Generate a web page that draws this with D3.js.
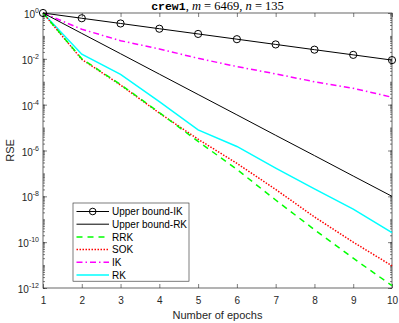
<!DOCTYPE html>
<html>
<head>
<meta charset="utf-8">
<script src="https://cdn.jsdelivr.net/npm/d3@7"></script>
<style>
  body { margin: 0; background: #fff; }
  svg { display: block; font-family: "Liberation Sans", Arial, sans-serif; }
</style>
</head>
<body>
<div id="chart"></div>
<script>
// epochs on the x axis
const epochs = [1, 2, 3, 4, 5, 6, 7, 8, 9, 10];

// RSE per epoch
const upperIK = [1, 0.59, 0.349, 0.206, 0.122, 0.072, 0.0425, 0.0251, 0.0149, 0.0088];
const upperRK = [1, 0.129, 0.0167, 2.15e-3, 2.78e-4, 3.6e-5, 4.6e-6, 6e-7, 7.7e-8, 1e-8];
const rrk = [1, 1.0e-2, 7.6e-4, 4.5e-5, 2.5e-6, 1.5e-7, 6.9e-9, 3.5e-10, 2.0e-11, 1.26e-12];
const sok = [1, 9.5e-3, 7.2e-4, 4.3e-5, 3.1e-6, 2.75e-7, 2.0e-8, 1.26e-9, 1.0e-10, 9.3e-12];
const ik = [1, 0.195, 0.062, 0.027, 0.0105, 0.0046, 0.0022, 0.001, 0.00052, 0.00021];
const rk = [1, 1.6e-2, 2.1e-3, 1.35e-4, 7.9e-6, 1.5e-6, 1.7e-7, 2.1e-8, 2.75e-9, 2.6e-10];

const yTickExps = [0, -2, -4, -6, -8, -10, -12];
const legendNames = ["Upper bound-IK", "Upper bound-RK", "RRK", "SOK", "IK", "RK"];

const width = 399, height = 323;
const margin = {top: 13, right: 7, bottom: 35, left: 43};

const svg = d3.select("#chart").append("svg")
    .attr("width", width)
    .attr("height", height);

const x = d3.scaleLinear().domain([1, 10]).range([margin.left, width - margin.right]);
const y = d3.scaleLog().domain([1e-12, 1]).range([height - margin.bottom, margin.top]);

const x0 = x.range()[0], x1 = x.range()[1];
const y0 = y.range()[0], y1 = y.range()[1];

// minor log ticks (every k*10^n)
let minor = [];
for (let e = -12; e < 0; e++) {
    for (let k = 1; k < 10; k++) minor.push(k * Math.pow(10, e));
}

const tickStyle = g => {
    g.select(".domain").remove();
    g.selectAll(".tick line").attr("stroke", "#262626").attr("stroke-width", 0.6);
};

// x axis bottom and top, ticks inward
svg.append("g")
    .attr("transform", `translate(0,${y0})`)
    .call(d3.axisBottom(x).tickValues(epochs).tickSize(-4).tickPadding(9).tickFormat(d3.format("d")))
    .call(tickStyle)
    .call(g => g.selectAll("text").attr("font-size", 10).attr("fill", "#262626")
        .attr("font-family", "Liberation Sans, Arial, sans-serif"));

svg.append("g")
    .attr("transform", `translate(0,${y1})`)
    .call(d3.axisTop(x).tickValues(epochs).tickSize(-4).tickFormat(""))
    .call(tickStyle);

// y axis left and right, major + minor ticks
[[d3.axisLeft, x0], [d3.axisRight, x1]].forEach(([ax, px]) => {
    svg.append("g")
        .attr("transform", `translate(${px},0)`)
        .call(ax(y).tickValues(minor).tickSize(-2).tickFormat(""))
        .call(tickStyle);
    svg.append("g")
        .attr("transform", `translate(${px},0)`)
        .call(ax(y).tickValues(yTickExps.map(e => Math.pow(10, e))).tickSize(-4).tickFormat(""))
        .call(tickStyle);
});

// y tick labels 10^n
const ylab = svg.append("g").attr("font-size", 10).attr("fill", "#262626");
yTickExps.forEach(e => {
    const t = ylab.append("text")
        .attr("x", x0 - 4)
        .attr("y", y(Math.pow(10, e)) + 5)
        .attr("text-anchor", "end");
    t.append("tspan").text("10");
    t.append("tspan").attr("font-size", 7).attr("dy", -5).text(e);
});

// box
svg.append("rect")
    .attr("x", x0).attr("y", y1)
    .attr("width", x1 - x0).attr("height", y0 - y1)
    .attr("fill", "none").attr("stroke", "#262626").attr("stroke-width", 0.7);

// series
const series = [
    {name: legendNames[0], values: upperIK, color: "#000", dash: null, w: 1, marker: true},
    {name: legendNames[1], values: upperRK, color: "#000", dash: null, w: 1, marker: false},
    {name: legendNames[2], values: rrk, color: "#00ff00", dash: "6,5", w: 1.5, marker: false},
    {name: legendNames[3], values: sok, color: "#ff0000", dash: "1.5,1.5", w: 1.5, marker: false},
    {name: legendNames[4], values: ik, color: "#ff00ff", dash: "6,3,1.5,3", w: 1.5, marker: false},
    {name: legendNames[5], values: rk, color: "#00ffff", dash: null, w: 1.5, marker: false}
];

const line = d3.line()
    .x((d, i) => x(epochs[i]))
    .y(d => y(d));

const plot = svg.append("g");
// draw in reverse so upper bounds sit on top like the reference
series.slice().reverse().forEach(s => {
    plot.append("path")
        .datum(s.values)
        .attr("d", line)
        .attr("fill", "none")
        .attr("stroke", s.color)
        .attr("stroke-width", s.w)
        .attr("stroke-dasharray", s.dash);
    if (s.marker) {
        plot.selectAll(null)
            .data(s.values)
            .enter().append("circle")
            .attr("cx", (d, i) => x(epochs[i]))
            .attr("cy", d => y(d))
            .attr("r", 3.6)
            .attr("fill", "none")
            .attr("stroke", s.color)
            .attr("stroke-width", 1);
    }
});

// legend
const lg = svg.append("g");
const lgX = 73, lgY = 203, lgW = 116, rowH = 12.7;
lg.append("rect")
    .attr("x", lgX).attr("y", lgY)
    .attr("width", lgW).attr("height", rowH * 6 + 2)
    .attr("fill", "#fff").attr("stroke", "#262626").attr("stroke-width", 0.6);
series.forEach((s, i) => {
    const cy = lgY + 8.5 + i * rowH;
    lg.append("line")
        .attr("x1", lgX + 3.5).attr("x2", lgX + 36)
        .attr("y1", cy).attr("y2", cy)
        .attr("stroke", s.color)
        .attr("stroke-width", s.w)
        .attr("stroke-dasharray", s.dash);
    if (s.marker) {
        lg.append("circle")
            .attr("cx", lgX + 19.7).attr("cy", cy).attr("r", 3.3)
            .attr("fill", "none").attr("stroke", s.color);
    }
    lg.append("text")
        .attr("x", lgX + 39)
        .attr("y", cy + 3.6)
        .attr("font-size", 10)
        .attr("fill", "#000")
        .text(s.name);
});

// axis titles
svg.append("text")
    .attr("x", (x0 + x1) / 2)
    .attr("y", 319)
    .attr("text-anchor", "middle")
    .attr("font-size", 11)
    .attr("fill", "#262626")
    .text("Number of epochs");

svg.append("text")
    .attr("transform", `translate(14,${(y0 + y1) / 2}) rotate(-90)`)
    .attr("text-anchor", "middle")
    .attr("font-size", 11)
    .attr("fill", "#262626")
    .text("RSE");

// title: crew1, m = 6469, n = 135
const title = svg.append("text")
    .attr("x", (x0 + x1) / 2)
    .attr("y", 9.5)
    .attr("text-anchor", "middle")
    .attr("font-size", 12.5)
    .attr("font-family", "Liberation Serif, serif")
    .attr("fill", "#000");
title.append("tspan").attr("font-family", "Liberation Mono, monospace").attr("font-weight", "bold").attr("font-size", 11.5).text("crew1");
title.append("tspan").text(", ");
title.append("tspan").attr("font-style", "italic").text("m");
title.append("tspan").text(" = 6469, ");
title.append("tspan").attr("font-style", "italic").text("n");
title.append("tspan").text(" = 135");
</script>
</body>
</html>
